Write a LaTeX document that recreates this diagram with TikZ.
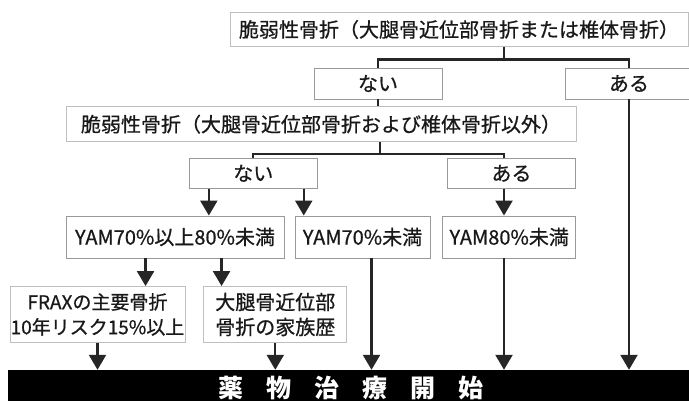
\documentclass[tikz,border=0pt]{standalone}
\usepackage{fontspec}
\setmainfont{Noto Sans CJK JP}
\newfontfamily\boxfont{Noto Sans CJK JP}[FakeBold=0.7]
\usetikzlibrary{arrows.meta}

\begin{document}
\begin{tikzpicture}[x=1pt,y=-1pt,
    box/.style={draw=gray!50,line width=0.9pt,fill=white,inner sep=0pt,align=center,
      text=black!90,font=\boxfont\fontsize{20}{25}\selectfont},
    dbox/.style={box,draw=gray!80},
    link/.style={line width=2.3pt,black!85},
    arr/.style={link,-{Triangle[width=17pt,length=15pt]}}]
   \useasboundingbox (0,0) rectangle (689,401);
   % First question
   \node[box,minimum width=458pt,minimum height=34pt] (top) at (459,29.5) {脆弱性骨折（大腿骨近位部骨折または椎体骨折）};
   \node[dbox,minimum width=128pt,minimum height=31pt] (nai1) at (378,83.5) {ない};
   \node[dbox,minimum width=128pt,minimum height=31pt] (aru1) at (629,83.5) {ある};
   % Second question
   \node[box,minimum width=510pt,minimum height=35pt] (fr2) at (321,124.2) {脆弱性骨折（大腿骨近位部骨折および椎体骨折以外）};
   \node[dbox,minimum width=128pt,minimum height=30pt] (nai2) at (253.3,173.3) {ない};
   \node[dbox,minimum width=128pt,minimum height=30pt] (aru2) at (511.5,173.3) {ある};
   % Bone density
   \node[dbox,minimum width=218pt,minimum height=42pt] (yam78) at (175,237) {YAM70\%以上80\%未満};
   \node[dbox,minimum width=135pt,minimum height=42pt] (yam70) at (362.5,237) {YAM70\%未満};
   \node[dbox,minimum width=133pt,minimum height=42pt] (yam80) at (509.2,237) {YAM80\%未満};
   % Risk factors
   \node[box,minimum width=175pt,minimum height=56pt,font=\boxfont\fontsize{19}{25}\selectfont] (frax) at (97.5,314.5) {FRAXの主要骨折\\10年リスク15\%以上};
   \node[box,minimum width=143pt,minimum height=56pt] (hipfam) at (275.3,314.5) {大腿骨近位部\\骨折の家族歴};
   % Start of treatment
   \node[fill=black,inner sep=0pt,minimum width=686pt,minimum height=42pt] (bar) at (351,391) {};
   \node[text=white,inner sep=0pt,font=\fontsize{25}{25}\selectfont\bfseries] (go) at (351,388.5)
     {薬\hspace{23pt}物\hspace{23pt}治\hspace{23pt}療\hspace{23pt}開\hspace{23pt}始};
   % Branch lines
   \coordinate (j1) at (504,59.5);
   \coordinate (j2) at (380,154);
   \draw[link] (top.south -| j1) -- (j1);
   \draw[link] (nai1.north) |- (j1) -| (aru1.north);
   \draw[link] (nai1.south) -- (nai1.south |- fr2.north);
   \draw[link] (fr2.south -| j2) -- (j2);
   \draw[link] (nai2.north) |- (j2) -| (j1 |- aru2.north);
   % Arrows
   \draw[arr] ([xshift=20pt]nai2.south west) -- ([xshift=20pt]nai2.south west |- yam78.north);
   \draw[arr] ([xshift=-14pt]nai2.south east) -- ([xshift=-14pt]nai2.south east |- yam70.north);
   \draw[arr] (j1 |- aru2.south) -- (j1 |- yam80.north);
   \draw[arr] ([xshift=80pt]yam78.south west) -- ([xshift=80pt]yam78.south west |- frax.north);
   \draw[arr] ([xshift=156pt]yam78.south west) -- ([xshift=156pt]yam78.south west |- hipfam.north);
   \draw[arr] (frax.south) -- (frax.south |- bar.north);
   \draw[arr] (hipfam.south) -- (hipfam.south |- bar.north);
   \draw[arr] ([xshift=9pt]yam70.south) -- ([xshift=9pt]yam70.south |- bar.north);
   \draw[arr] (j1 |- yam80.south) -- (j1 |- bar.north);
   \draw[arr] (aru1.south) -- (aru1.south |- bar.north);
\end{tikzpicture}
\end{document}
